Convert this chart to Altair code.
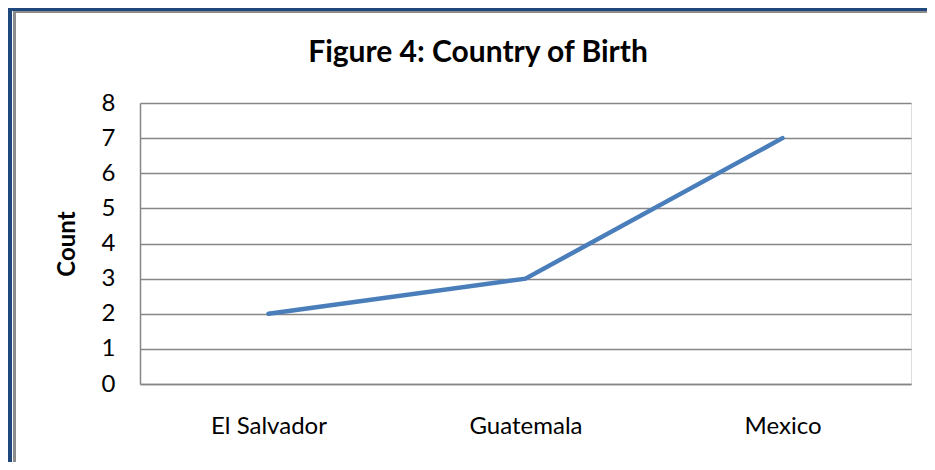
import altair as alt
import pandas as pd

countries = ["El Salvador", "Guatemala", "Mexico"]
counts = [2, 3, 7]
y_ticks = [0, 1, 2, 3, 4, 5, 6, 7, 8]
title_text = ["Figure 4: Country of Birth"]

df = pd.DataFrame({"Country": countries, "Count": counts})

FONT = "Lato"
GRID = "#868686"
BLUE_BORDER = "#1F497D"

line = alt.Chart(df).mark_line(color="#4A7EBB", strokeWidth=4.5, strokeCap="round").encode(
    x=alt.X("Country:N", sort=countries,
            scale=alt.Scale(type="point", padding=0.5),
            axis=alt.Axis(title=None, labelAngle=0, labelFontSize=24, labelFont=FONT,
                          labelColor="#000000", labelPadding=30, ticks=False,
                          domainColor=GRID, domainWidth=1.5, grid=False)),
    y=alt.Y("Count:Q", scale=alt.Scale(domain=[0, 8], nice=False),
            axis=alt.Axis(title="Count", values=y_ticks, format="d", labelFontSize=24,
                          labelFont=FONT, labelColor="#000000", labelPadding=25, ticks=False,
                          domainColor=GRID, domainWidth=1.5, gridColor=GRID, gridWidth=1.5,
                          gridOpacity=1, titleFont=FONT, titleFontSize=24,
                          titleFontWeight="bold", titleColor="#000000", titlePadding=22)),
)

title = alt.Chart(pd.DataFrame({"t": title_text})).mark_text(
    font=FONT, fontSize=30, fontWeight="bold", color="#000000",
    align="center", baseline="alphabetic", clip=False,
).encode(text="t:N", x=alt.value(338), y=alt.value(-41))

# decorative frame (blue outer border, grey inner border)
blue_v = alt.Chart(df).mark_rule(color=BLUE_BORDER, strokeWidth=4, clip=False).encode(
    x=alt.value(-130), y=alt.value(-96), y2=alt.value(400))
blue_h = alt.Chart(df).mark_rule(color=BLUE_BORDER, strokeWidth=4, clip=False).encode(
    x=alt.value(-132), x2=alt.value(800), y=alt.value(-94))
grey_v = alt.Chart(df).mark_rule(color="#8C8C8C", strokeWidth=3, clip=False).encode(
    x=alt.value(-125.5), y=alt.value(-92), y2=alt.value(400))
grey_h = alt.Chart(df).mark_rule(color="#8C8C8C", strokeWidth=2, clip=False).encode(
    x=alt.value(-127), x2=alt.value(800), y=alt.value(-91))

chart = alt.layer(blue_v, blue_h, grey_v, grey_h, line, title).properties(
    width=771, height=281,
    autosize=alt.AutoSizeParams(type="none"),
    padding={"left": 132, "top": 95, "right": 16, "bottom": 78},
).configure_view(stroke=None).configure(background="white")

chart.save("out.html", embed_options={"renderer": "svg", "actions": False})
